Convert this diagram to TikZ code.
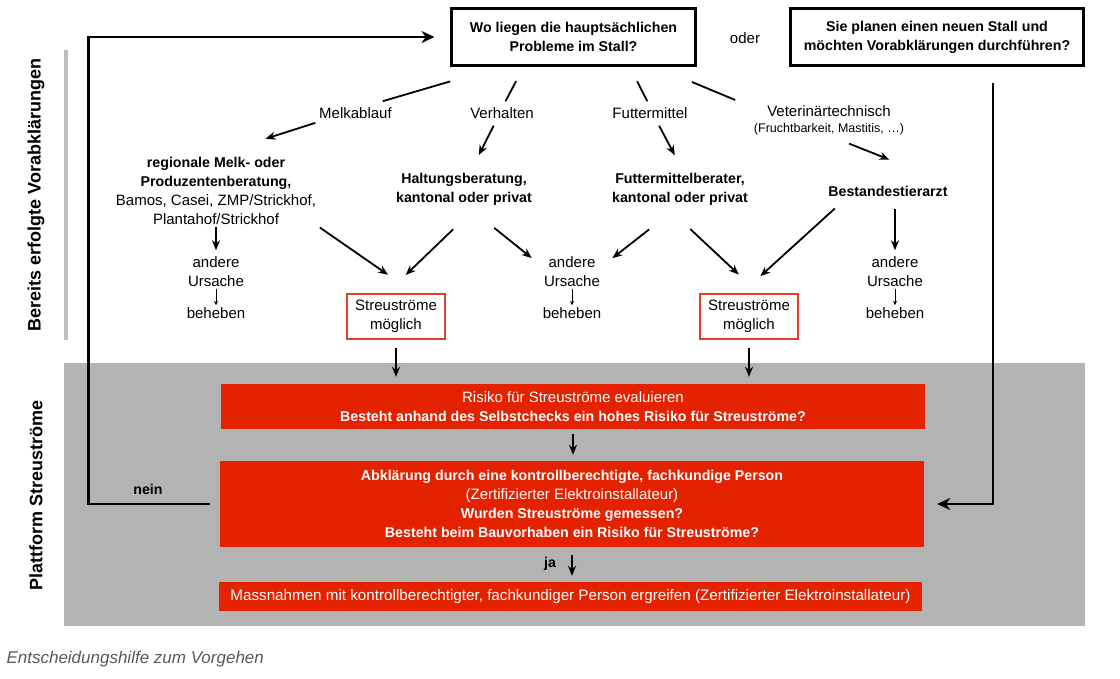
\documentclass[tikz,border=0pt]{standalone}
\usepackage{fontspec}
\setmainfont{Liberation Sans}
\usetikzlibrary{arrows.meta,positioning}

\definecolor{stromrot}{HTML}{E42200}
\definecolor{rahmenrot}{HTML}{E2412B}
\definecolor{plattgrau}{HTML}{B3B3B3}
\definecolor{balkengrau}{HTML}{BEBEBE}
\definecolor{textgrau}{HTML}{5A5A5A}

\newcommand{\fett}[1]{{\fontsize{14.2}{19}\selectfont\bfseries #1}}

\tikzset{
  frage/.style={draw, line width=3.2pt, minimum width=#1, minimum height=56.8pt,
    align=center, font=\fontsize{14.2}{19}\selectfont\bfseries},
  txt/.style={align=center, inner sep=2pt, font=\fontsize{15}{19}\selectfont},
  fett/.style={txt, font=\fontsize{14.2}{19}\selectfont\bfseries},
  streu/.style={txt, draw=rahmenrot, line width=1.6pt, minimum width=98.4pt,
    minimum height=45.4pt},
  rot/.style={txt, fill=stromrot, text=white, minimum width=704pt},
  seite/.style={rotate=90, font=\fontsize{18}{22}\selectfont\bfseries},
  linie/.style={line width=1.8pt},
  pfeil/.style={linie, -{Stealth[length=10pt,width=8pt]}},
  klein/.style={line width=0.8pt, -{Stealth[length=4.5pt,width=4pt]}},
  schleife/.style={line width=2.8pt, -{Stealth[length=13pt,width=12pt]}},
}

\begin{document}
\begin{tikzpicture}[x=1pt,y=-1pt]
\useasboundingbox[fill=white] (0,0) rectangle (1120,679);

% Hintergrund
\fill[plattgrau] (64,363) rectangle (1085,626);
\fill[balkengrau] (64,50) rectangle (68,340);

\node[seite] (vorab) at (36,195) {Bereits erfolgte Vorabklärungen};
\node[seite] (plattform) at (36,495) {Plattform Streuströme};

% Einstieg
\node[frage=243.8pt] (probleme) at (573.5,37) {Wo liegen die hauptsächlichen\\Probleme im Stall?};
\node[txt] (oder) at (745,38) {oder};
\node[frage=292.8pt] (neubau) at (937,37) {Sie planen einen neuen Stall und\\möchten Vorabklärungen durchführen?};

% Bereiche
\node[txt] (melk) at (355.5,113) {Melkablauf};
\node[txt] (verhalten) at (502,113) {Verhalten};
\node[txt] (futter) at (650,113) {Futtermittel};
\node[txt] (vet) at (829,120.5) {Veterinärtechnisch\\[-3.5pt]{\fontsize{12.5}{15}\selectfont(Fruchtbarkeit, Mastitis, …)}};

% Beratung
\node[txt] (regional) at (216,190.5) {\fett{regionale Melk- oder}\\\fett{Produzentenberatung,}\\Bamos, Casei, ZMP/Strickhof,\\Plantahof/Strickhof};
\node[fett] (haltung) at (464,189.5) {Haltungsberatung,\\kantonal oder privat};
\node[fett] (futterber) at (680,189.5) {Futtermittelberater,\\kantonal oder privat};
\node[fett] (tierarzt) at (888,191) {Bestandestierarzt};

% andere Ursache
\node[txt] (andere1) at (216,271.5) {andere\\Ursache};
\node[txt] (beheben1) at (216,313) {beheben};
\node[txt] (andere2) at (572,271.5) {andere\\Ursache};
\node[txt] (beheben2) at (572,313) {beheben};
\node[txt] (andere3) at (895,271.5) {andere\\Ursache};
\node[txt] (beheben3) at (895,313) {beheben};

\node[streu] (streu1) at (396,316.5) {Streuströme\\möglich};
\node[streu] (streu2) at (749,316.5) {Streuströme\\möglich};

% Plattform Streustroeme
\node[rot, minimum height=45pt] (risiko) at (573,406.5) {Risiko für Streuströme evaluieren\\\fett{Besteht anhand des Selbstchecks ein hohes Risiko für Streuströme?}};
\node[rot, minimum height=86pt] (abkl) at (572,504) {\fett{Abklärung durch eine kontrollberechtigte, fachkundige Person}\\(Zertifizierter Elektroinstallateur)\\\fett{Wurden Streuströme gemessen?}\\\fett{Besteht beim Bauvorhaben ein Risiko für Streuströme?}};
\node[rot, minimum height=29pt, minimum width=703pt, font=\fontsize{15.2}{19}\selectfont] (mass) at (570.5,596.5) {Massnahmen mit kontrollberechtigter, fachkundiger Person ergreifen (Zertifizierter Elektroinstallateur)};

\node[fett] (nein) at (148,489) {nein};
\node[fett] (ja) at (550,564) {ja};

\node[anchor=west, text=textgrau, font=\fontsize{17}{20}\selectfont\itshape] (legende) at (3,659) {Entscheidungshilfe zum Vorgehen};

% Verbindungen oben
\draw[linie, shorten <=51pt, shorten >=14.5pt] (probleme.202) -- (melk.30);
\draw[linie, shorten <=16pt, shorten >=4.6pt] (probleme.211) -- (verhalten.80);
\draw[linie, shorten <=16pt, shorten >=4.6pt] (probleme.-28) -- (futter.95);
\draw[linie, shorten <=39pt, shorten >=18pt] (probleme.-20) -- (vet.170);

\draw[pfeil, shorten <=7pt, shorten >=52pt] (melk.193) -- (regional.north);
\draw[pfeil, shorten <=5.6pt, shorten >=18pt] (verhalten.233) -- (haltung.70);
\draw[pfeil, shorten <=5.7pt, shorten >=18pt] (futter.-50) -- (futterber.80);
\draw[pfeil, shorten <=17.5pt, shorten >=65pt] (vet.-77) -- (tierarzt.north east);

% Verbindungen Mitte
\draw[pfeil, shorten <=1pt, shorten >=4pt] (regional) -- (andere1);
\draw[pfeil, shorten <=2pt, shorten >=32pt] (regional.south east) -- (streu1.52);
\draw[pfeil, shorten <=31pt, shorten >=26pt] (haltung.-58) -- (streu1.111);
\draw[pfeil, shorten <=32pt, shorten >=13pt] (haltung.-74) -- (andere2.170);
\draw[pfeil, shorten <=35pt, shorten >=13pt] (futterber.260) -- (andere2.10);
\draw[pfeil, shorten <=31pt, shorten >=27pt] (futterber.236) -- (streu2.68);
\draw[pfeil, shorten <=15pt, shorten >=25pt] (tierarzt.190) -- (streu2.107);
\draw[pfeil, shorten <=11pt, shorten >=4pt] (andere3.north |- tierarzt.south) -- (andere3.north);

\draw[klein] (andere1) -- (beheben1);
\draw[klein] (andere2) -- (beheben2);
\draw[klein] (andere3) -- (beheben3);

% Verbindungen unten
\draw[pfeil, shorten <=8pt, shorten >=7pt] (streu1.south) -- (streu1.south |- risiko.north);
\draw[pfeil, shorten <=8pt, shorten >=7pt] (streu2.south) -- (streu2.south |- risiko.north);
\draw[pfeil, shorten <=5pt, shorten >=6pt] (risiko.south) -- (risiko.south |- abkl.north);
\draw[pfeil, shorten <=8pt, shorten >=6pt] (abkl.south) -- (abkl.south |- mass.north);

\draw[schleife, shorten <=10pt, shorten >=15.5pt] (abkl.west) -- ++(-131,0) |- (probleme.west);
\draw[schleife, shorten <=16.5pt, shorten >=13pt] ([xshift=56pt]neubau.south) |- (abkl.east);
\end{tikzpicture}
\end{document}
